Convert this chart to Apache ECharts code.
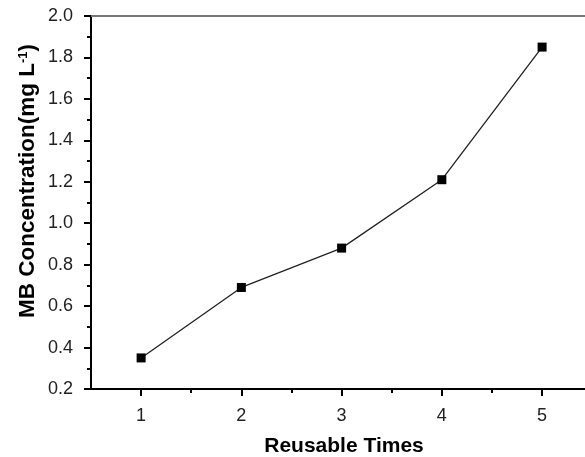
<!DOCTYPE html>
<html>
<head>
<meta charset="utf-8">
<script src="https://cdn.jsdelivr.net/npm/echarts@6/dist/echarts.min.js"></script>
<style>
html,body{margin:0;padding:0;background:#fff;}
#chart{width:585px;height:457px;}
</style>
</head>
<body>
<div id="chart"></div>
<script>
var categories = [1, 2, 3, 4, 5];
var mbConcentration = [0.35, 0.69, 0.88, 1.21, 1.85];
var xTickValues = [1, 2, 3, 4, 5];
var xMinorTickValues = [1.5, 2.5, 3.5, 4.5];
var yTickLabels = ['0.2','0.4','0.6','0.8','1.0','1.2','1.4','1.6','1.8','2.0'];

var chart = echarts.init(document.getElementById('chart'), null, {renderer:'canvas'});
var font = 'Liberation Sans, Arial, sans-serif';
var xMin = 0.5, xMax = 5.428;
var option = {
  animation: false,
  backgroundColor: '#fff',
  grid: {left: 91, top: 16, right: 0, bottom: 68, containLabel: false},
  xAxis: [
    {
      type: 'value', min: xMin, max: xMax, position: 'bottom',
      axisLine: {show: true, lineStyle: {color: '#000', width: 2}},
      axisTick: {show: true, customValues: xTickValues, length: 7, lineStyle: {color: '#000', width: 2}},
      axisLabel: {show: true, customValues: xTickValues, margin: 18, fontSize: 18, fontFamily: font, color: '#222'},
      splitLine: {show: false}
    },
    {
      type: 'value', min: xMin, max: xMax, position: 'bottom',
      axisLine: {show: false},
      axisTick: {show: true, customValues: xMinorTickValues, length: 4, lineStyle: {color: '#000', width: 2}},
      axisLabel: {show: false},
      splitLine: {show: false}
    },
    {
      type: 'value', min: xMin, max: xMax, position: 'top',
      axisLine: {show: true, lineStyle: {color: '#777', width: 2}},
      axisTick: {show: false}, axisLabel: {show: false}, splitLine: {show: false}
    }
  ],
  yAxis: {
    type: 'value', min: 0.2, max: 2.0, interval: 0.2,
    axisLine: {show: true, lineStyle: {color: '#000', width: 2}},
    axisTick: {show: true, length: 7, lineStyle: {color: '#000', width: 2}},
    minorTick: {show: true, splitNumber: 2, length: 4, lineStyle: {color: '#000', width: 2}},
    axisLabel: {
      margin: 18, fontSize: 18, fontFamily: font, color: '#222',
      formatter: function (v) {
        var i = Math.round((v - 0.2) / 0.2);
        return yTickLabels[i] !== undefined ? yTickLabels[i] : v.toFixed(1);
      }
    },
    splitLine: {show: false}
  },
  series: [{
    type: 'line',
    xAxisIndex: 0,
    data: categories.map(function (c, i) { return [c, mbConcentration[i]]; }),
    symbol: 'rect', symbolSize: 9,
    itemStyle: {color: '#000'},
    lineStyle: {color: '#222', width: 1.3}
  }],
  graphic: [
    {
      type: 'text', x: 344, y: 446,
      style: {
        text: 'Reusable Times', font: 'bold 21px ' + font, fill: '#000',
        textAlign: 'center', textVerticalAlign: 'middle', align: 'center', verticalAlign: 'middle'
      }
    },
    {
      type: 'text', x: 28, y: 181, rotation: Math.PI / 2,
      style: {
        text: 'MB Concentration(mg L{sup|-1})',
        font: 'bold 22.5px ' + font, fill: '#000',
        textAlign: 'center', textVerticalAlign: 'middle', align: 'center', verticalAlign: 'middle',
        rich: {
          sup: {fontSize: 13, fontWeight: 'bold', fontFamily: font, fill: '#000', verticalAlign: 'top'}
        }
      }
    }
  ]
};
chart.setOption(option);
</script>
</body>
</html>
